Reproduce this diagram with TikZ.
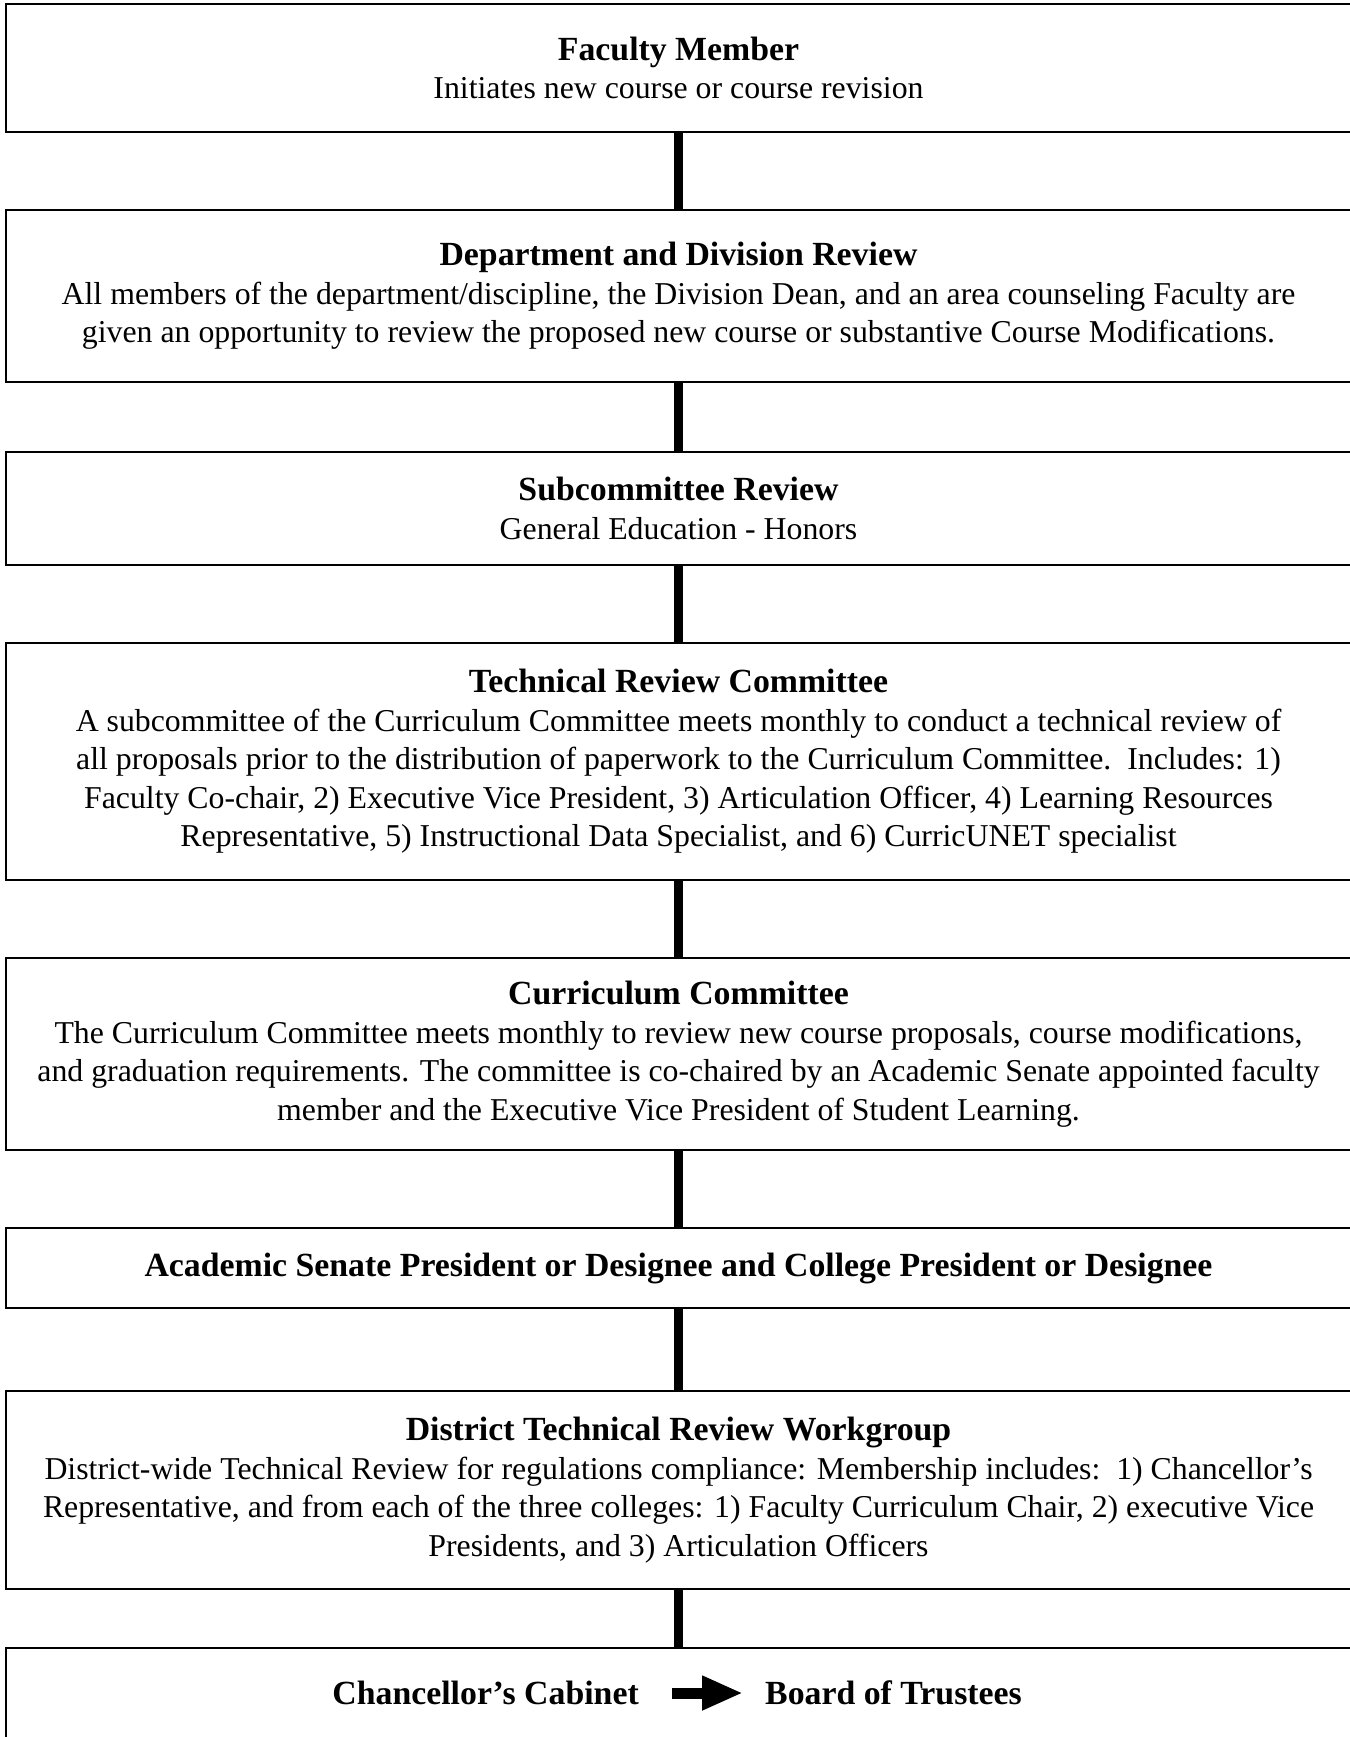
\documentclass[tikz,border=0pt]{standalone}
\usepackage{fontspec}
\setmainfont{Liberation Serif}
\usetikzlibrary{positioning}
\usetikzlibrary{arrows.meta}
\newcommand{\boxhead}[1]{{\fontsize{33.8}{38.5}\selectfont\bfseries #1}}

\begin{document}
\begin{tikzpicture}[
            node distance = 78pt,
            box/.style = {draw,line width=2.6pt,minimum width=1345pt,
                inner sep=0pt,outer sep=0pt,align=center,
                font=\fontsize{31.8}{38.5}\selectfont},
            link/.style = {line width=9pt},
            bigarrow/.style = {line width=11pt,-{Triangle[length=41pt,width=32pt]},
                shorten <=33pt,shorten >=22pt},
            headline/.style = {inner sep=0pt,font=\fontsize{33.8}{38.5}\selectfont\bfseries}]
            \useasboundingbox (0,0) rectangle (1349pt,-1737pt);
            \node[box,minimum height=128pt] (member) at (678.5pt,-68pt)
                {\boxhead{Faculty Member}\\
                Initiates new course or course revision};
            \node[box,minimum height=172pt,below=of member] (dept)
                {\boxhead{Department and Division Review}\\
                All members of the department/discipline, the Division Dean, and an area counseling Faculty are\\
                given an opportunity to review the proposed new course or substantive Course Modifications.};
            \node[box,minimum height=113pt,below=70pt of dept] (subcom)
                {\boxhead{Subcommittee Review}\\
                General Education - Honors};
            \node[box,minimum height=237pt,below=of subcom] (techrev)
                {\boxhead{Technical Review Committee}\\
                A subcommittee of the Curriculum Committee meets monthly to conduct a technical review of\\
                all proposals prior to the distribution of paperwork to the Curriculum Committee.\ \ Includes: 1)\\
                Faculty Co-chair, 2) Executive Vice President, 3) Articulation Officer, 4) Learning Resources\\
                Representative, 5) Instructional Data Specialist, and 6) CurricUNET specialist};
            \node[box,minimum height=192pt,below=of techrev] (curric)
                {\boxhead{Curriculum Committee}\\
                The Curriculum Committee meets monthly to review new course proposals, course modifications,\\
                and graduation requirements. The committee is co-chaired by an Academic Senate appointed faculty\\
                member and the Executive Vice President of Student Learning.};
            \node[box,minimum height=80pt,below=of curric] (senate)
                {\boxhead{Academic Senate President or Designee and College President or Designee}};
            \node[box,minimum height=198pt,below=83pt of senate] (district)
                {\boxhead{District Technical Review Workgroup}\\
                District-wide Technical Review for regulations compliance: Membership includes:\ \ 1) Chancellor's\\
                Representative, and from each of the three colleges: 1) Faculty Curriculum Chair, 2) executive Vice\\
                Presidents, and 3) Articulation Officers};
            \node[box,minimum height=90pt,below=59pt of district] (final) {};
            \node[headline,anchor=east] (cabinet) at ([xshift=-39.5pt]final.center) {Chancellor's Cabinet};
            \node[headline,anchor=west] (trustees) at ([xshift=86.5pt]final.center) {Board of Trustees};
            \path[link]
                (member) edge (dept)
                (dept) edge (subcom)
                (subcom) edge (techrev)
                (techrev) edge (curric)
                (curric) edge (senate)
                (senate) edge (district)
                (district) edge (final);
            \draw[bigarrow] (cabinet) -- (trustees);
        \end{tikzpicture}
\end{document}
